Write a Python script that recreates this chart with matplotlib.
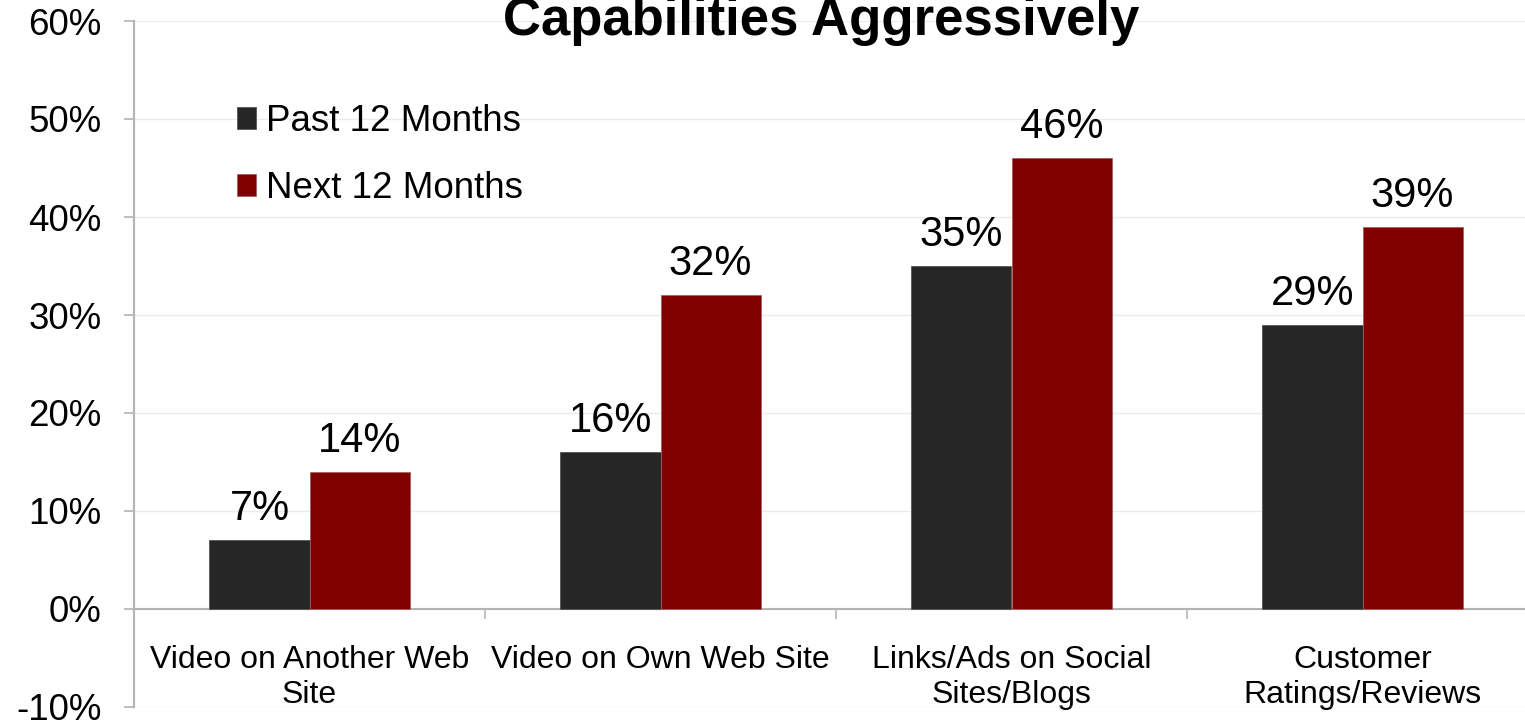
import numpy as np
import matplotlib
matplotlib.use("Agg")
import matplotlib.pyplot as plt

plt.rcParams['font.family'] = ['Liberation Sans', 'DejaVu Sans']

# categories and survey shares (percent)
categories = ['Video on Another Web\nSite', 'Video on Own Web Site',
              'Links/Ads on Social\nSites/Blogs', 'Customer\nRatings/Reviews']
past_12 = [7, 16, 35, 29]
next_12 = [14, 32, 46, 39]
series_names = ['Past 12 Months', 'Next 12 Months']
yticks = [-10, 0, 10, 20, 30, 40, 50, 60]
ytick_labels = ['-10%', '0%', '10%', '20%', '30%', '40%', '50%', '60%']

dark = '#262626'
red = '#800000'
axis_grey = '#b3b3b3'

fig = plt.figure(figsize=(15.25, 7.21), dpi=100)
ax = fig.add_axes([134 / 1525, 14 / 721, 1404 / 1525, 686 / 721])

x = np.arange(len(categories))
w = 0.285
b1 = ax.bar(x - w / 2, past_12, w, color=dark, edgecolor='#555555', linewidth=0.6,
            label=series_names[0], zorder=3)
b2 = ax.bar(x + w / 2, next_12, w, color=red, edgecolor='#a86060', linewidth=0.6,
            label=series_names[1], zorder=3)

for bars, vals in ((b1, past_12), (b2, next_12)):
    for r, v in zip(bars, vals):
        ax.annotate(f'{v}%', (r.get_x() + r.get_width() / 2, v),
                    xytext=(0, 8), textcoords='offset points',
                    ha='center', va='bottom', fontsize=30, color='black')

ax.set_xlim(-0.5, 3.5)
ax.set_ylim(-10, 60)
ax.set_yticks(yticks)
ax.set_yticklabels(ytick_labels)
ax.yaxis.grid(True, color='#ebebeb', linewidth=1.0, zorder=0)
ax.set_axisbelow(True)

ax.set_xticks(x)
ax.set_xticks([0.5, 1.5, 2.5, 3.5], minor=True)
ax.tick_params(axis='x', which='major', length=0, pad=26, labelsize=23)
ax.tick_params(axis='x', which='minor', length=7, width=1.2, color=axis_grey, direction='out')
ax.tick_params(axis='y', length=7, width=1.2, color=axis_grey, pad=16.5, labelsize=26.5)
ax.set_xticklabels(categories)
for lbl in ax.get_xticklabels():
    lbl.set_linespacing(1.05)

for s in ('top', 'right'):
    ax.spines[s].set_visible(False)
ax.spines['bottom'].set_position(('data', 0))
ax.spines['bottom'].set_color(axis_grey)
ax.spines['bottom'].set_linewidth(1.5)
ax.spines['left'].set_color(axis_grey)
ax.spines['left'].set_linewidth(1.5)

ax.legend(loc='upper left', bbox_to_anchor=(237 / 1525, 1 - 104 / 721),
          bbox_transform=fig.transFigure, frameon=False, fontsize=26.5,
          handlelength=0.52, handleheight=0.52, handletextpad=0.27,
          labelspacing=0.87, borderpad=0, borderaxespad=0)

fig.text(821.5 / 1525, 1 - 35 / 721, 'Capabilities Aggressively',
         ha='center', va='baseline', fontsize=38, fontweight='bold')

fig.savefig('out.png', dpi=100)
